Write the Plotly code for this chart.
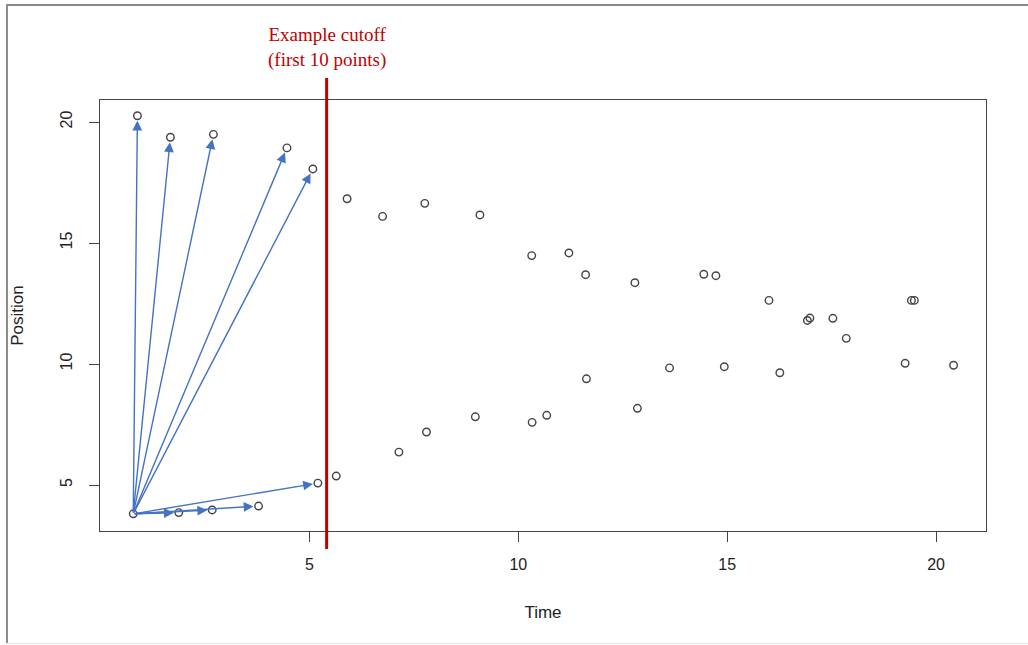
import plotly.graph_objects as go

# ---- data ----
time = [0.78, 0.88, 1.67, 1.87, 2.67, 2.70, 3.78, 4.46, 5.08, 5.20,
        5.64, 5.90, 6.75, 7.14, 7.76, 7.80, 8.97, 9.08, 10.32, 10.33,
        10.68, 11.21, 11.61, 11.63, 12.79, 12.85, 13.62, 14.44, 14.73, 14.93,
        16.00, 16.26, 16.92, 16.98, 17.53, 17.85, 19.26, 19.41, 19.48, 20.42]
position = [3.81, 20.26, 19.37, 3.86, 3.97, 19.49, 4.13, 18.93, 18.06, 5.08,
            5.37, 16.83, 16.10, 6.36, 16.64, 7.19, 7.82, 16.16, 14.48, 7.59,
            7.88, 14.59, 13.69, 9.39, 13.36, 8.17, 9.84, 13.71, 13.65, 9.89,
            12.63, 9.64, 11.80, 11.90, 11.89, 11.06, 10.03, 12.63, 12.63, 9.95]
n_first = 10
cutoff_time = 5.41
x_ticks = [5, 10, 15, 20]
y_ticks = [5, 10, 15, 20]
x_range = [-0.016, 21.196]
y_range = [3.10, 20.91]

fig = go.Figure()
fig.add_trace(go.Scatter(
    x=time, y=position, mode="markers",
    marker=dict(symbol="circle-open", size=7.5, color="#444444",
                line=dict(width=1.4, color="#444444")),
    showlegend=False, hoverinfo="skip"))

annotations = []
x0, y0 = time[0], position[0]
for tx, ty in zip(time[1:n_first], position[1:n_first]):
    annotations.append(dict(
        x=tx, y=ty, ax=x0, ay=y0, xref="x", yref="y", axref="x", ayref="y",
        text="", showarrow=True, arrowhead=2, arrowsize=1.4, arrowwidth=1.4,
        arrowcolor="#4472C4", standoff=5))

annotations.append(dict(
    x=cutoff_time, y=1.122, xref="x", yref="paper",
    text="Example cutoff<br>(first 10 points)", showarrow=False,
    font=dict(family="Liberation Serif", size=19, color="#C00000"),
    xanchor="center", yanchor="middle"))

shapes = [
    dict(type="line", xref="x", yref="paper", x0=cutoff_time, x1=cutoff_time,
         y0=-0.042, y1=1.051, line=dict(color="#C00000", width=3)),
    # outer image frame (left and top)
    dict(type="line", xref="paper", yref="paper", x0=-0.105, x1=-0.105,
         y0=1.2204, y1=-0.26, line=dict(color="#8a8a8a", width=2)),
    dict(type="line", xref="paper", yref="paper", x0=-0.106, x1=1.06,
         y0=1.2204, y1=1.2204, line=dict(color="#8a8a8a", width=2)),
    dict(type="line", xref="paper", yref="paper", x0=-0.105, x1=1.06,
         y0=-0.2607, y1=-0.2607, line=dict(color="#e6e6e6", width=1)),
]

axis_common = dict(showgrid=False, zeroline=False, showline=True, mirror=True,
                   linecolor="#444444", linewidth=1.3, ticks="outside",
                   ticklen=10, tickcolor="#444444", tickwidth=1.3,
                   tickfont=dict(family="Liberation Sans", size=16, color="#222222"))

fig.update_layout(
    width=1028, height=645,
    margin=dict(l=100, r=42, t=100, b=114),
    paper_bgcolor="white", plot_bgcolor="white",
    xaxis=dict(range=x_range, tickvals=x_ticks, ticklabelstandoff=9,
               title=dict(text="Time", standoff=33,
                          font=dict(family="Liberation Sans", size=17, color="#222222")),
               **axis_common),
    yaxis=dict(range=y_range, tickvals=y_ticks, tickangle=-90, ticklabelstandoff=10,
               title=dict(text="Position", standoff=30,
                          font=dict(family="Liberation Sans", size=17, color="#222222")),
               **axis_common),
    annotations=annotations, shapes=shapes)

fig.write_html("out.html")
